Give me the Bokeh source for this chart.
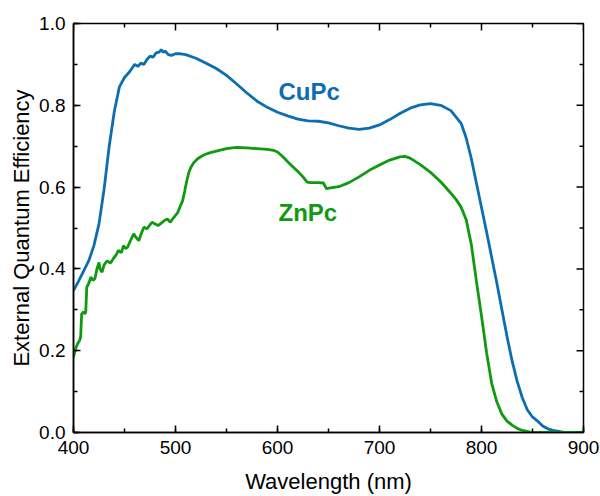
import math
from bokeh.plotting import figure
from bokeh.models import Range1d, SingleIntervalTicker, NumeralTickFormatter, Label
from bokeh.embed import file_html
from bokeh.resources import INLINE

# CuPc EQE
cupc_wl = [400, 405, 410, 415, 420, 425, 430, 435, 440, 445, 450, 455, 460, 463, 466, 469, 472, 475,
           478, 481, 484, 486, 488, 490, 493, 496, 500, 505, 510, 520, 530, 540, 550, 560, 570, 580,
           590, 600, 610, 620, 630, 640, 650, 660, 670, 680, 690, 700, 710, 720, 730, 740, 750, 760,
           770, 780, 785, 790, 795, 800, 805, 810, 815, 820, 825, 830, 835, 840, 845, 850, 855, 860,
           865, 870, 880, 890, 900]
cupc_eqe = [0.347, 0.370, 0.395, 0.420, 0.457, 0.510, 0.595, 0.700, 0.785, 0.845, 0.868, 0.882, 0.900,
            0.895, 0.903, 0.900, 0.912, 0.920, 0.918, 0.928, 0.930, 0.936, 0.930, 0.932, 0.924, 0.922,
            0.926, 0.926, 0.924, 0.915, 0.903, 0.890, 0.873, 0.852, 0.830, 0.810, 0.795, 0.783, 0.774,
            0.766, 0.762, 0.761, 0.757, 0.750, 0.744, 0.741, 0.744, 0.752, 0.765, 0.780, 0.793, 0.801,
            0.804, 0.800, 0.787, 0.756, 0.720, 0.670, 0.610, 0.550, 0.490, 0.428, 0.366, 0.300, 0.235,
            0.175, 0.125, 0.085, 0.055, 0.038, 0.028, 0.016, 0.009, 0.005, 0.001, 0.0, 0.0]

# ZnPc EQE
znpc_wl = [400, 402, 404, 406, 407, 408, 410, 411, 412, 413, 415, 417, 419, 421, 423, 425, 426, 428,
           430, 433, 436, 439, 442, 444, 447, 449, 451, 453, 456, 459, 461, 464, 467, 469, 472, 475,
           477, 480, 483, 486, 489, 492, 495, 498, 502, 505, 507, 509, 511, 513, 515, 518, 522, 526,
           530, 535, 540, 550, 560, 570, 580, 590, 596, 600, 605, 610, 615, 620, 625, 629, 632, 640,
           645, 648, 652, 660, 670, 680, 690, 700, 710, 720, 725, 730, 740, 750, 760, 770, 775, 780,
           785, 790, 795, 800, 805, 810, 815, 820, 825, 830, 835, 840, 848, 860, 900]
znpc_eqe = [0.184, 0.205, 0.217, 0.225, 0.233, 0.290, 0.295, 0.290, 0.294, 0.355, 0.365, 0.380, 0.372,
            0.376, 0.400, 0.416, 0.400, 0.392, 0.410, 0.420, 0.414, 0.425, 0.435, 0.445, 0.440, 0.457,
            0.450, 0.453, 0.470, 0.486, 0.478, 0.469, 0.490, 0.502, 0.498, 0.508, 0.514, 0.510, 0.506,
            0.512, 0.518, 0.522, 0.514, 0.525, 0.537, 0.555, 0.567, 0.590, 0.615, 0.635, 0.648, 0.660,
            0.670, 0.676, 0.681, 0.685, 0.688, 0.694, 0.697, 0.696, 0.694, 0.692, 0.690, 0.686, 0.675,
            0.662, 0.650, 0.638, 0.625, 0.612, 0.611, 0.611, 0.610, 0.596, 0.598, 0.601, 0.611, 0.625,
            0.641, 0.654, 0.666, 0.674, 0.675, 0.671, 0.655, 0.636, 0.613, 0.585, 0.570, 0.551, 0.520,
            0.460, 0.370, 0.285, 0.195, 0.120, 0.075, 0.045, 0.028, 0.018, 0.010, 0.005, 0.001, 0.0, 0.0]

# tick values (also mirrored on the top and right edges)
x_major = [400, 500, 600, 700, 800, 900]
x_minor = [450, 550, 650, 750, 850]
y_major = [0.0, 0.2, 0.4, 0.6, 0.8, 1.0]
y_minor = [0.1, 0.3, 0.5, 0.7, 0.9]

BLUE = "#0c6eb1"
GREEN = "#0f9a0f"
FONT = "Liberation Sans"

p = figure(width=600, height=496, x_range=Range1d(400, 900), y_range=Range1d(0, 1.0),
           output_backend="svg", toolbar_location=None,
           min_border_left=73, min_border_right=17, min_border_top=23, min_border_bottom=64)
p.grid.visible = False
p.outline_line_color = "black"
p.outline_line_width = 1.5

p.line(cupc_wl, cupc_eqe, line_color=BLUE, line_width=2.8)
p.line(znpc_wl, znpc_eqe, line_color=GREEN, line_width=2.8)

xt = SingleIntervalTicker(interval=100, num_minor_ticks=2)
yt = SingleIntervalTicker(interval=0.2, num_minor_ticks=2)

for ax in (p.xaxis[0], p.yaxis[0]):
    ax.axis_line_color = "black"
    ax.axis_line_width = 1.5
    ax.major_tick_in = 7
    ax.major_tick_out = 0
    ax.minor_tick_in = 4
    ax.minor_tick_out = 0
    ax.major_tick_line_width = 1.5
    ax.minor_tick_line_width = 1.5
    ax.major_tick_line_color = "black"
    ax.minor_tick_line_color = "black"
    ax.major_label_text_font = FONT
    ax.major_label_text_font_size = "19px"
    ax.major_label_text_color = "black"
    ax.axis_label_text_font = FONT
    ax.axis_label_text_font_size = "22px"
    ax.axis_label_text_font_style = "normal"
    ax.axis_label_text_color = "black"

p.xaxis.ticker = xt
p.yaxis.ticker = yt
p.yaxis.formatter = NumeralTickFormatter(format="0.0")
p.xaxis.axis_label = "Wavelength (nm)"
p.yaxis.axis_label = "External Quantum Efficiency"
p.xaxis.major_label_standoff = 8
p.xaxis.axis_label_standoff = 12
p.yaxis.major_label_standoff = 8
p.yaxis.axis_label_standoff = 2

# mirrored ticks on top and right edges
p.ray(x=x_major, y=[1.0] * len(x_major), length=7, length_units="screen", angle=-math.pi / 2,
      line_color="black", line_width=1.5)
p.ray(x=x_minor, y=[1.0] * len(x_minor), length=4, length_units="screen", angle=-math.pi / 2,
      line_color="black", line_width=1.5)
p.ray(x=[900] * len(y_major), y=y_major, length=7, length_units="screen", angle=math.pi,
      line_color="black", line_width=1.5)
p.ray(x=[900] * len(y_minor), y=y_minor, length=4, length_units="screen", angle=math.pi,
      line_color="black", line_width=1.5)

p.add_layout(Label(x=601, y=0.834, text="CuPc", text_font=FONT, text_font_size="24px",
                   text_font_style="bold", text_color=BLUE, text_baseline="alphabetic"))
p.add_layout(Label(x=601, y=0.538, text="ZnPc", text_font=FONT, text_font_size="24px",
                   text_font_style="bold", text_color=GREEN, text_baseline="alphabetic"))

open("out.html", "w").write(file_html(p, INLINE))
